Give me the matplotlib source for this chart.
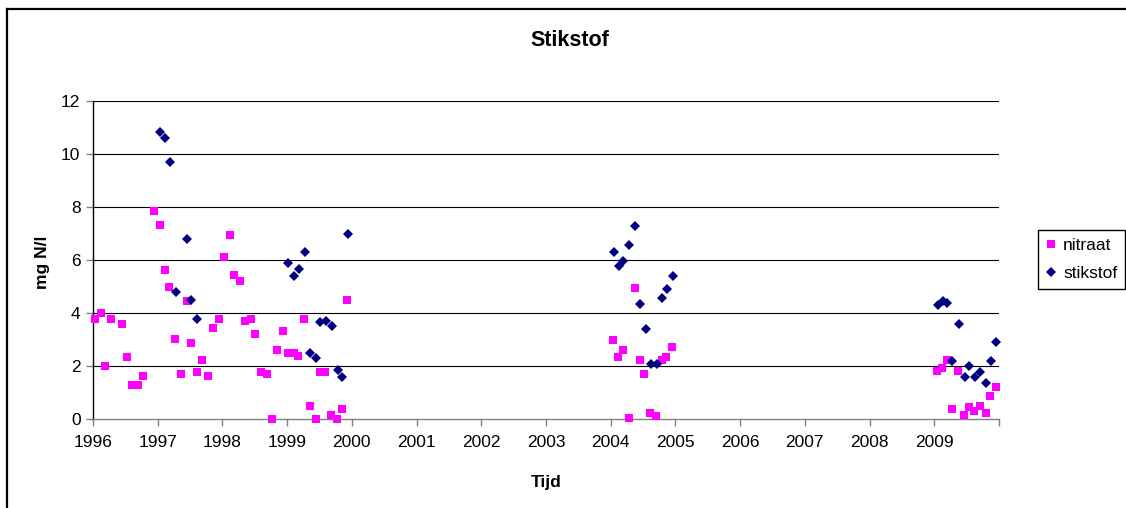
import matplotlib
matplotlib.use('Agg')
import matplotlib.pyplot as plt
from matplotlib.lines import Line2D

plt.rcParams['font.family'] = ['Liberation Sans', 'DejaVu Sans']

# nitraat (mg N/l), tijd als decimaal jaar
nitraat_t = [1996.03, 1996.12, 1996.18, 1996.28, 1996.45, 1996.52, 1996.61, 1996.69, 1996.78,
             1996.94, 1997.03, 1997.12, 1997.18, 1997.27, 1997.36, 1997.45, 1997.52, 1997.61,
             1997.69, 1997.78, 1997.85, 1997.94, 1998.03, 1998.11, 1998.18, 1998.27, 1998.35,
             1998.44, 1998.51, 1998.60, 1998.69, 1998.77, 1998.84, 1998.93, 1999.02, 1999.10,
             1999.17, 1999.26, 1999.35, 1999.44, 1999.50, 1999.59, 1999.68, 1999.77, 1999.84,
             1999.92,
             2004.03, 2004.12, 2004.19, 2004.28, 2004.37, 2004.45, 2004.52, 2004.61, 2004.70,
             2004.79, 2004.85, 2004.95,
             2009.04, 2009.12, 2009.19, 2009.28, 2009.37, 2009.46, 2009.53, 2009.62, 2009.70,
             2009.80, 2009.86, 2009.95]
nitraat = [3.79, 4.02, 2.01, 3.79, 3.58, 2.34, 1.31, 1.31, 1.63,
           7.86, 7.32, 5.64, 4.99, 3.04, 1.70, 4.45, 2.88, 1.80,
           2.24, 1.63, 3.43, 3.79, 6.13, 6.93, 5.43, 5.21, 3.69,
           3.79, 3.20, 1.80, 1.70, 0.01, 2.61, 3.32, 2.50, 2.50,
           2.40, 3.79, 0.50, 0.01, 1.80, 1.80, 0.18, 0.01, 0.39,
           4.51,
           2.99, 2.33, 2.62, 0.06, 4.94, 2.22, 1.70, 0.24, 0.11,
           2.22, 2.33, 2.72,
           1.81, 1.92, 2.22, 0.39, 1.81, 0.15, 0.46, 0.33, 0.51,
           0.22, 0.88, 1.20]

# stikstof (mg N/l)
stikstof_t = [1997.03, 1997.12, 1997.19, 1997.28, 1997.45, 1997.52, 1997.61,
              1999.02, 1999.11, 1999.18, 1999.27, 1999.35, 1999.45, 1999.51, 1999.60,
              1999.70, 1999.78, 1999.85, 1999.94,
              2004.05, 2004.13, 2004.19, 2004.29, 2004.38, 2004.46, 2004.54, 2004.62,
              2004.71, 2004.80, 2004.87, 2004.96,
              2009.05, 2009.13, 2009.20, 2009.28, 2009.38, 2009.47, 2009.53, 2009.63,
              2009.71, 2009.80, 2009.87, 2009.96]
stikstof = [10.83, 10.59, 9.69, 4.81, 6.81, 4.48, 3.78,
            5.89, 5.40, 5.67, 6.32, 2.49, 2.32, 3.66, 3.69,
            3.50, 1.87, 1.60, 6.97,
            6.31, 5.78, 5.98, 6.59, 7.30, 4.36, 3.40, 2.08,
            2.08, 4.58, 4.91, 5.39,
            4.31, 4.47, 4.37, 2.21, 3.60, 1.61, 2.00, 1.61,
            1.77, 1.38, 2.21, 2.90]

jaren = list(range(1996, 2011))
jaar_labels = [str(j) for j in jaren[:-1]] + ['']
y_ticks = [0, 2, 4, 6, 8, 10, 12]

W, H = 1126, 508
fig = plt.figure(figsize=(W / 100, H / 100), dpi=100)
ax = fig.add_axes([93 / W, 1 - 419.3 / H, 906 / W, 318.3 / H])

for y in y_ticks[1:]:
    ax.axhline(y, color='black', lw=0.8, zorder=0)

ax.plot(nitraat_t, nitraat, ls='none', marker='s', ms=5.5, color='#FF00FF',
        markeredgewidth=0, label='nitraat', zorder=3, clip_on=False)
ax.plot(stikstof_t, stikstof, ls='none', marker='D', ms=4.7, color='#000080',
        markeredgewidth=0, label='stikstof', zorder=3, clip_on=False)

ax.set_xlim(1996, 2010)
ax.set_ylim(0, 12)
ax.set_xticks(jaren)
ax.set_xticklabels(jaar_labels)
ax.set_yticks(y_ticks)
ax.tick_params(axis='both', labelsize=12.5, length=5, width=1, color='#808080', direction='out')
ax.tick_params(axis='x', pad=6)
ax.tick_params(axis='y', pad=4)
for s in ['top', 'right']:
    ax.spines[s].set_visible(False)
ax.spines['bottom'].set_color('#808080')
ax.spines['left'].set_color('black')
ax.spines['bottom'].set_linewidth(1)
ax.spines['left'].set_linewidth(1)

fig.text(570 / W, 1 - 41 / H, 'Stikstof', ha='center', va='center', fontsize=15.5, fontweight='bold')
fig.text(42 / W, 1 - 262 / H, 'mg N/l', ha='center', va='center', rotation=90,
         fontsize=12.5, fontweight='bold')
fig.text(546 / W, 1 - 483 / H, 'Tijd', ha='center', va='center', fontsize=12.5, fontweight='bold')

leg = fig.legend(loc='upper left', bbox_to_anchor=(1038 / W, 1 - 230 / H), fontsize=12.5,
                 fancybox=False, edgecolor='black', framealpha=1, handlelength=0.6,
                 handletextpad=0.4, borderpad=0.45, labelspacing=0.75, borderaxespad=0)
leg.get_frame().set_linewidth(1)

# rand rond de grafiek
fig.add_artist(Line2D([7 / W, 7 / W], [0, 1 - 9 / H], color='black', lw=1.6))
fig.add_artist(Line2D([7 / W, 1], [1 - 9 / H, 1 - 9 / H], color='black', lw=1.6))

fig.savefig('out.png', dpi=100)
